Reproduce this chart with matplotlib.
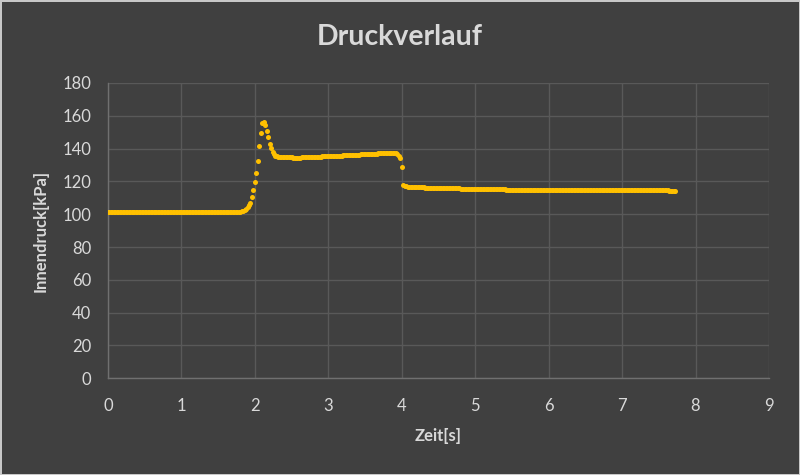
import numpy as np
import matplotlib
matplotlib.use("Agg")
import matplotlib.pyplot as plt

# ---- data ----
sample_interval_s = 0.02  # 50 Hz sample clock

pressure_kpa = [
    # 0.00 - 0.18
    101.2, 101.3, 101.2, 101.2, 101.1, 101.2, 101.2, 101.3, 101.2, 101.2,
    # 0.20 - 0.38
    101.2, 101.2, 101.1, 101.2, 101.3, 101.2, 101.2, 101.2, 101.1, 101.2,
    # 0.40 - 0.58
    101.2, 101.3, 101.2, 101.2, 101.2, 101.1, 101.2, 101.2, 101.3, 101.2,
    # 0.60 - 0.78
    101.2, 101.2, 101.2, 101.1, 101.2, 101.2, 101.3, 101.2, 101.2, 101.2,
    # 0.80 - 0.98
    101.1, 101.2, 101.2, 101.2, 101.3, 101.2, 101.2, 101.1, 101.2, 101.2,
    # 1.00 - 1.18
    101.2, 101.3, 101.2, 101.2, 101.1, 101.2, 101.2, 101.2, 101.3, 101.2,
    # 1.20 - 1.38
    101.2, 101.1, 101.2, 101.2, 101.2, 101.3, 101.2, 101.2, 101.1, 101.2,
    # 1.40 - 1.58
    101.2, 101.2, 101.3, 101.2, 101.2, 101.2, 101.1, 101.2, 101.2, 101.3,
    # 1.60 - 1.78
    101.2, 101.2, 101.2, 101.3, 101.3, 101.3, 101.4, 101.4, 101.5, 101.5,
    # 1.80 - 1.98
    101.6, 101.8, 102.1, 102.6, 103.3, 104.2, 105.4, 106.9, 110.4, 114.7,
    # 2.00 - 2.18
    119.4, 125.2, 132.5, 141.7, 149.6, 155.7, 156.1, 154.1, 150.6, 147.0,
    # 2.20 - 2.38
    142.9, 140.3, 137.8, 136.5, 135.8, 135.4, 135.1, 134.9, 134.8, 134.8,
    # 2.40 - 2.58
    134.7, 134.7, 134.7, 134.6, 134.6, 134.6, 134.5, 134.5, 134.5, 134.5,
    # 2.60 - 2.78
    134.5, 134.5, 134.6, 134.6, 134.6, 134.7, 134.7, 134.7, 134.8, 134.8,
    # 2.80 - 2.98
    134.9, 134.9, 135.0, 135.0, 135.1, 135.1, 135.2, 135.2, 135.3, 135.3,
    # 3.00 - 3.18
    135.4, 135.4, 135.5, 135.5, 135.6, 135.6, 135.7, 135.7, 135.8, 135.8,
    # 3.20 - 3.38
    135.9, 135.9, 136.0, 136.0, 136.1, 136.1, 136.2, 136.2, 136.3, 136.3,
    # 3.40 - 3.58
    136.4, 136.4, 136.5, 136.5, 136.6, 136.6, 136.7, 136.7, 136.8, 136.8,
    # 3.60 - 3.78
    136.9, 136.9, 137.0, 137.0, 137.1, 137.1, 137.2, 137.2, 137.3, 137.3,
    # 3.80 - 3.98
    137.4, 137.4, 137.5, 137.5, 137.5, 137.5, 137.3, 136.8, 135.8, 134.0,
    # 4.00 - 4.18
    128.5, 118.1, 117.3, 117.0, 116.9, 116.8, 116.7, 116.7, 116.6, 116.6,
    # 4.20 - 4.38
    116.5, 116.5, 116.5, 116.4, 116.4, 116.4, 116.3, 116.3, 116.3, 116.2,
    # 4.40 - 4.58
    116.2, 116.2, 116.1, 116.1, 116.1, 116.0, 116.0, 116.0, 115.9, 115.9,
    # 4.60 - 4.78
    115.9, 115.9, 115.8, 115.8, 115.8, 115.8, 115.7, 115.7, 115.7, 115.7,
    # 4.80 - 4.98
    115.6, 115.6, 115.6, 115.6, 115.5, 115.5, 115.5, 115.5, 115.5, 115.5,
    # 5.00 - 5.18
    115.4, 115.4, 115.4, 115.4, 115.4, 115.3, 115.3, 115.3, 115.3, 115.3,
    # 5.20 - 5.38
    115.2, 115.2, 115.2, 115.2, 115.2, 115.1, 115.1, 115.1, 115.1, 115.1,
    # 5.40 - 5.58
    115.1, 115.0, 115.0, 115.0, 115.0, 115.0, 115.0, 115.0, 115.0, 114.9,
    # 5.60 - 5.78
    114.9, 114.9, 114.9, 114.9, 114.9, 114.9, 114.9, 114.9, 114.8, 114.8,
    # 5.80 - 5.98
    114.8, 114.8, 114.8, 114.8, 114.8, 114.8, 114.8, 114.8, 114.8, 114.8,
    # 6.00 - 6.18
    114.8, 114.8, 114.8, 114.7, 114.7, 114.7, 114.7, 114.7, 114.7, 114.7,
    # 6.20 - 6.38
    114.7, 114.7, 114.7, 114.7, 114.7, 114.7, 114.7, 114.7, 114.7, 114.7,
    # 6.40 - 6.58
    114.7, 114.7, 114.6, 114.6, 114.6, 114.6, 114.6, 114.6, 114.6, 114.6,
    # 6.60 - 6.78
    114.6, 114.6, 114.6, 114.6, 114.6, 114.6, 114.6, 114.6, 114.6, 114.6,
    # 6.80 - 6.98
    114.6, 114.6, 114.6, 114.6, 114.6, 114.6, 114.6, 114.6, 114.6, 114.6,
    # 7.00 - 7.18
    114.6, 114.6, 114.6, 114.5, 114.5, 114.5, 114.5, 114.5, 114.5, 114.5,
    # 7.20 - 7.38
    114.5, 114.5, 114.5, 114.5, 114.5, 114.5, 114.5, 114.5, 114.5, 114.5,
    # 7.40 - 7.58
    114.5, 114.5, 114.5, 114.5, 114.5, 114.5, 114.5, 114.5, 114.5, 114.5,
    # 7.60 - 7.72
    114.5, 114.5, 114.4, 114.4, 114.4, 114.4, 114.4,
]
time_s = np.arange(len(pressure_kpa)) * sample_interval_s

x_ticks = [0, 1, 2, 3, 4, 5, 6, 7, 8, 9]
y_ticks = [0, 20, 40, 60, 80, 100, 120, 140, 160, 180]
title_text = "Druckverlauf"
x_label = "Zeit[s]"
y_label = "Innendruck[kPa]"

# ---- style ----
BG = "#404040"
GRID = "#595959"
AXIS = "#707070"
TEXT = "#d9d9d9"
GOLD = "#ffc000"

plt.rcParams["font.family"] = ["Lato", "DejaVu Sans"]

fig = plt.figure(figsize=(8, 4.75), dpi=100, facecolor=BG)
fig.patch.set_edgecolor("#c8c8c8")
fig.patch.set_linewidth(2)
ax = fig.add_axes([108 / 800, 1 - 378.3 / 475, (769 - 108) / 800, (378.3 - 83) / 475])
ax.set_facecolor(BG)

ax.plot(time_s, pressure_kpa, linestyle="none", marker="o", markersize=3.6,
        markeredgewidth=0, color=GOLD, zorder=3)

ax.set_xlim(0, 9)
ax.set_ylim(0, 180)
ax.set_xticks(x_ticks)
ax.set_yticks(y_ticks)
ax.grid(True, color=GRID, linewidth=1.0, zorder=0)
ax.set_axisbelow(True)
for side in ("top", "right"):
    ax.spines[side].set_visible(False)
for side in ("left", "bottom"):
    ax.spines[side].set_color(AXIS)
    ax.spines[side].set_linewidth(1.0)
    ax.spines[side].set_zorder(2)

ax.tick_params(axis="both", length=0, colors=TEXT, labelsize=12)
ax.tick_params(axis="x", pad=14)
ax.tick_params(axis="y", pad=12)

ax.set_xlabel(x_label, color=TEXT, fontsize=12, fontweight="bold", labelpad=10)
ax.set_ylabel(y_label, color=TEXT, fontsize=12, fontweight="bold", labelpad=10)

fig.text(0.5, 1 - 37 / 475, title_text, ha="center", va="center",
         color=TEXT, fontsize=20.5, fontweight="bold")

fig.savefig("out.png", dpi=100, facecolor=BG, edgecolor=fig.get_edgecolor())
